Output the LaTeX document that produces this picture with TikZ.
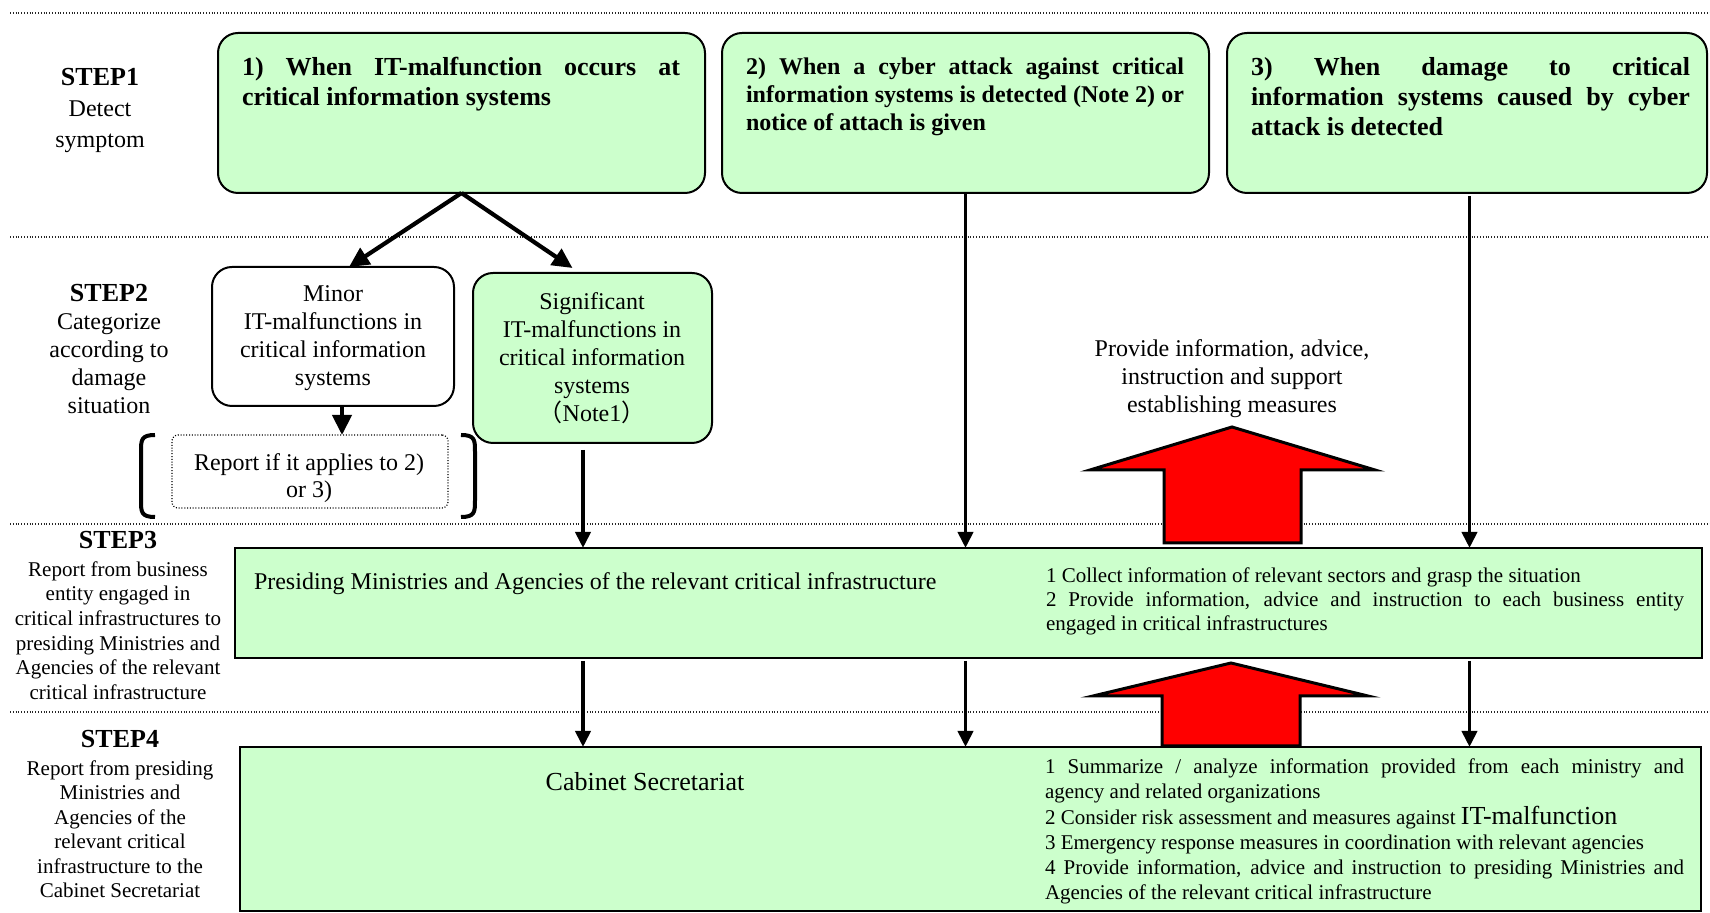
\documentclass[tikz,border=0pt]{standalone}
\usepackage{fontspec}
\setmainfont{Liberation Serif}
\newfontfamily\cjkfont{Noto Sans CJK JP}
\usetikzlibrary{fit,arrows.meta}
\definecolor{lgreen}{HTML}{CCFFCC}
\definecolor{bred}{HTML}{FF0000}
\begin{document}
\begin{tikzpicture}[x=0.5pt,y=-0.5pt,
  box/.style={draw, line width=1pt, inner sep=0pt, outer sep=0pt},
  rbox/.style={box, rounded corners=10pt},
  gfill/.style={fill=lgreen},
  txt/.style={inner sep=0pt, outer sep=0pt},
  titletxt/.style={txt, anchor=north west, align=left},
  bigb/.style={font=\fontsize{13}{15}\selectfont\bfseries},
  midb/.style={font=\fontsize{12}{14}\selectfont\bfseries},
  body/.style={txt, align=center, anchor=north, font=\fontsize{12}{14}\selectfont},
  small/.style={txt, align=left, anchor=north west, font=\fontsize{10.5}{12}\selectfont},
  steptxt/.style={txt, align=center, anchor=north},
  sepline/.style={line width=0.6pt, dash pattern=on 0.5pt off 0.9pt, black!85},
  thinarr/.style={line width=1.9pt, -{Triangle[length=8pt,width=7.5pt]}},
  thickarr/.style={line width=2.1pt, -{Triangle[length=10pt,width=9.5pt]}},
  redarrow/.style={fill=bred, draw=black, line width=1.5pt, line join=miter},
  bracket/.style={line width=2pt}
]
\useasboundingbox (0,0) rectangle (1710,913);

% separators
\foreach \yy in {13,237,524,712} \draw[sepline] (10,\yy) -- (1710,\yy);

% step labels
\node[steptxt, font=\fontsize{12}{15.5}\selectfont] (s1) at (100,68)
  {{\fontsize{13}{15.5}\selectfont\bfseries STEP1}\\Detect\\symptom};
\node[steptxt, font=\fontsize{12}{14}\selectfont] (s2) at (109,284)
  {{\fontsize{13}{14}\selectfont\bfseries STEP2}\\Categorize\\according to\\damage\\situation};
\node[steptxt, font=\fontsize{10.5}{12.3}\selectfont] (s3) at (118,531)
  {{\fontsize{13}{12.3}\selectfont\bfseries STEP3}\\[1.7pt]Report from business\\entity engaged in\\critical infrastructures to\\presiding Ministries and\\Agencies of the relevant\\critical infrastructure};
\node[steptxt, font=\fontsize{10.5}{12.2}\selectfont] (s4) at (120,730)
  {{\fontsize{13}{12.2}\selectfont\bfseries STEP4}\\[1.9pt]Report from presiding\\Ministries and\\Agencies of the\\relevant critical\\infrastructure to the\\Cabinet Secretariat};

% boxes
\node[rbox, gfill, fit={(218,33)(705,193)}] (b1) {};
\node[rbox, gfill, fit={(722,33)(1209,193)}] (b2) {};
\node[rbox, gfill, fit={(1227,33)(1707,193)}] (b3) {};
\node[rbox, fit={(212,267)(454,406)}] (minor) {};
\node[rbox, gfill, fit={(473,273)(712,443)}] (sig) {};
\node[draw, line width=0.6pt, dash pattern=on 0.5pt off 0.9pt, rounded corners=3pt, inner sep=0pt, outer sep=0pt, fit={(172,435)(448,508)}] (report) {};
\node[box, gfill, fit={(235,548)(1702,658)}] (pres) {};
\node[box, gfill, fit={(240,747)(1701,911)}] (cab) {};

% box texts
\node[titletxt, bigb] (t1) at (242,57)
  {\makebox[219pt][s]{1) When IT-malfunction occurs at}\\critical information systems};
\node[titletxt, midb] (t2) at (746,58)
  {\makebox[219pt][s]{2) When a cyber attack against critical}\\\makebox[219pt][s]{information systems is detected (Note 2) or}\\notice of attach is given};
\node[titletxt, bigb] (t3) at (1251,57)
  {\makebox[219.5pt][s]{3) When damage to critical}\\\makebox[219.5pt][s]{information systems caused by cyber}\\attack is detected};
\node[body] (tminor) at (333,286) {Minor\\IT-malfunctions in\\critical information\\systems};
\node[body] (tsig) at (592,293) {Significant\\IT-malfunctions in\\critical information\\systems\\{\cjkfont （}Note1{\cjkfont ）}};
\node[body, font=\fontsize{12}{13.5}\selectfont] (trep) at (309,454) {Report if it applies to 2)\\or 3)};
\node[body] (tprov) at (1232,340) {Provide information, advice,\\instruction and support\\establishing measures};
\node[txt, anchor=north west, font=\fontsize{12}{14}\selectfont] (tpres) at (254,573)
  {Presiding Ministries and Agencies of the relevant critical infrastructure};
\node[small] (tpres2) at (1046,568)
  {1 Collect information of relevant sectors and grasp the situation\\\makebox[319pt][s]{2 Provide information, advice and instruction to each business entity}\\engaged in critical infrastructures};
\node[txt, anchor=north, font=\fontsize{13}{15}\selectfont] (tcab) at (645,772) {Cabinet Secretariat};
\node[small, font=\fontsize{10.5}{12.6}\selectfont] (tcab2) at (1045,759)
  {\makebox[319.5pt][s]{1 Summarize / analyze information provided from each ministry and}\\agency and related organizations\\2 Consider risk assessment and measures against {\fontsize{13}{12.6}\selectfont IT-malfunction}\\3 Emergency response measures in coordination with relevant agencies\\\makebox[319.5pt][s]{4 Provide information, advice and instruction to presiding Ministries and}\\Agencies of the relevant critical infrastructure};

% brackets
\draw[bracket] (155,435) .. controls (141,435) and (141,440) .. (141,452) -- (141,500) .. controls (141,512) and (141,517) .. (155,517);
\draw[bracket] (461,435) .. controls (475,435) and (475,440) .. (475,452) -- (475,500) .. controls (475,512) and (475,517) .. (461,517);

% lanes
\coordinate (l1) at ([xshift=-4.75pt]sig.south);
\coordinate (l3) at ([xshift=1.25pt]b3.south);
\coordinate (lm) at ([xshift=4.5pt]minor.south);

% connectors
\draw[thickarr] (b1.south) -- ([xshift=8pt]minor.north);
\draw[thickarr] (b1.south) -- ([xshift=-10pt,yshift=2.5pt]sig.north);
\draw[thickarr] (lm) -- (lm |- report.north);
\draw[thinarr, shorten <=3.5pt] (l1) -- (l1 |- pres.north);
\draw[thinarr] (b2.south) -- (b2.south |- pres.north);
\draw[thinarr, shorten <=1.5pt] (l3) -- (l3 |- pres.north);
\draw[thinarr, shorten <=1.5pt] (l1 |- pres.south) -- (l1 |- cab.north);
\draw[thinarr, shorten <=1.5pt] (b2.south |- pres.south) -- (b2.south |- cab.north);
\draw[thinarr, shorten <=1.5pt] (l3 |- pres.south) -- (l3 |- cab.north);

% red block arrows
\draw[redarrow] (1232,427) -- (1375,470) -- (1301,470) -- (1301,543) -- (1164,543) -- (1164,470) -- (1090,470) -- cycle;
\draw[redarrow] (1231,663) -- (1368,696) -- (1300,696) -- (1300,746) -- (1162,746) -- (1162,696) -- (1093,696) -- cycle;
\end{tikzpicture}
\end{document}
